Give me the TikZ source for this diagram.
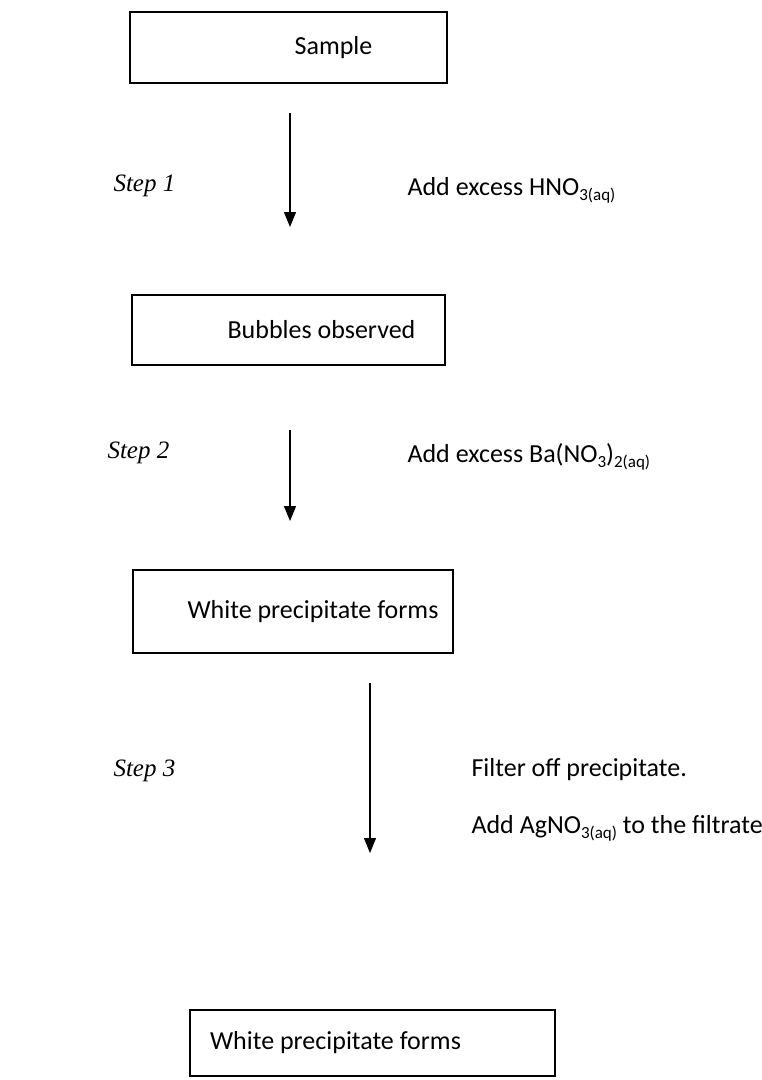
\documentclass[tikz,border=0pt]{standalone}
\usepackage{fontspec}
\setmainfont{Carlito}
\newfontfamily\stepfont{Liberation Serif}
\usepackage{tikz}
\usetikzlibrary{arrows.meta}

\newcommand{\chemsub}[1]{\raisebox{-0.4ex}{\fontsize{17}{19}\selectfont #1}}

\begin{document}
\begin{tikzpicture}[
  x=1pt, y=-1pt,
  stage/.style={draw, line width=1.2pt, rectangle, inner sep=0pt},
  stagetext/.style={font=\fontsize{26}{30}\selectfont},
  steptext/.style={font=\stepfont\itshape\fontsize{25}{29}\selectfont, anchor=west},
  reagent/.style={font=\fontsize{26}{30}\selectfont, anchor=west},
  flow/.style={-{Triangle[width=12pt,length=15pt]}, line width=1.2pt}
]
\useasboundingbox (0,0) rectangle (762,1080);

% Boxes
\node[stage, minimum width=317pt, minimum height=71pt, label={[stagetext, xshift=45pt]center:Sample}] (Sample) at (288.5,47.5) {};
\node[stage, minimum width=313pt, minimum height=70pt, label={[stagetext, xshift=33pt]center:Bubbles observed}] (Bubbles) at (288.5,330) {};
\node[stage, minimum width=320pt, minimum height=83pt, label={[stagetext, xshift=20pt]center:White precipitate forms}] (Precipitate) at (293,611.5) {};
\node[stage, minimum width=365pt, minimum height=66pt, label={[stagetext, xshift=-37pt]center:White precipitate forms}] (PrecipitateTwo) at (372.5,1043) {};

% Arrow ends
\coordinate (FlowOneTop) at (290,113);
\coordinate (FlowOneEnd) at (290,227);
\coordinate (FlowTwoTop) at (290,430);
\coordinate (FlowTwoEnd) at (290,521);
\coordinate (FlowThreeTop) at (370,683);
\coordinate (FlowThreeEnd) at (370,853);

% Steps
\node[steptext] (StepOne) at (110,186) {Step 1};
\node[steptext] (StepTwo) at (104,453) {Step 2};
\node[steptext] (StepThree) at (110,771) {Step 3};

% Reagents
\node[reagent] (AddAcid) at (404,190) {Add excess HNO\chemsub{3(aq)}};
\node[reagent] (AddBarium) at (404,457) {Add excess Ba(NO\chemsub{3})\chemsub{2(aq)}};
\node[reagent] (Filter) at (468,770) {Filter off precipitate.};
\node[reagent] (AddSilver) at (468,828) {Add AgNO\chemsub{3(aq)} to the filtrate};

% Flow
\draw[flow] (FlowOneTop) -- (FlowOneEnd);
\draw[flow] (FlowTwoTop) -- (FlowTwoEnd);
\draw[flow] (FlowThreeTop) -- (FlowThreeEnd);

\end{tikzpicture}
\end{document}
